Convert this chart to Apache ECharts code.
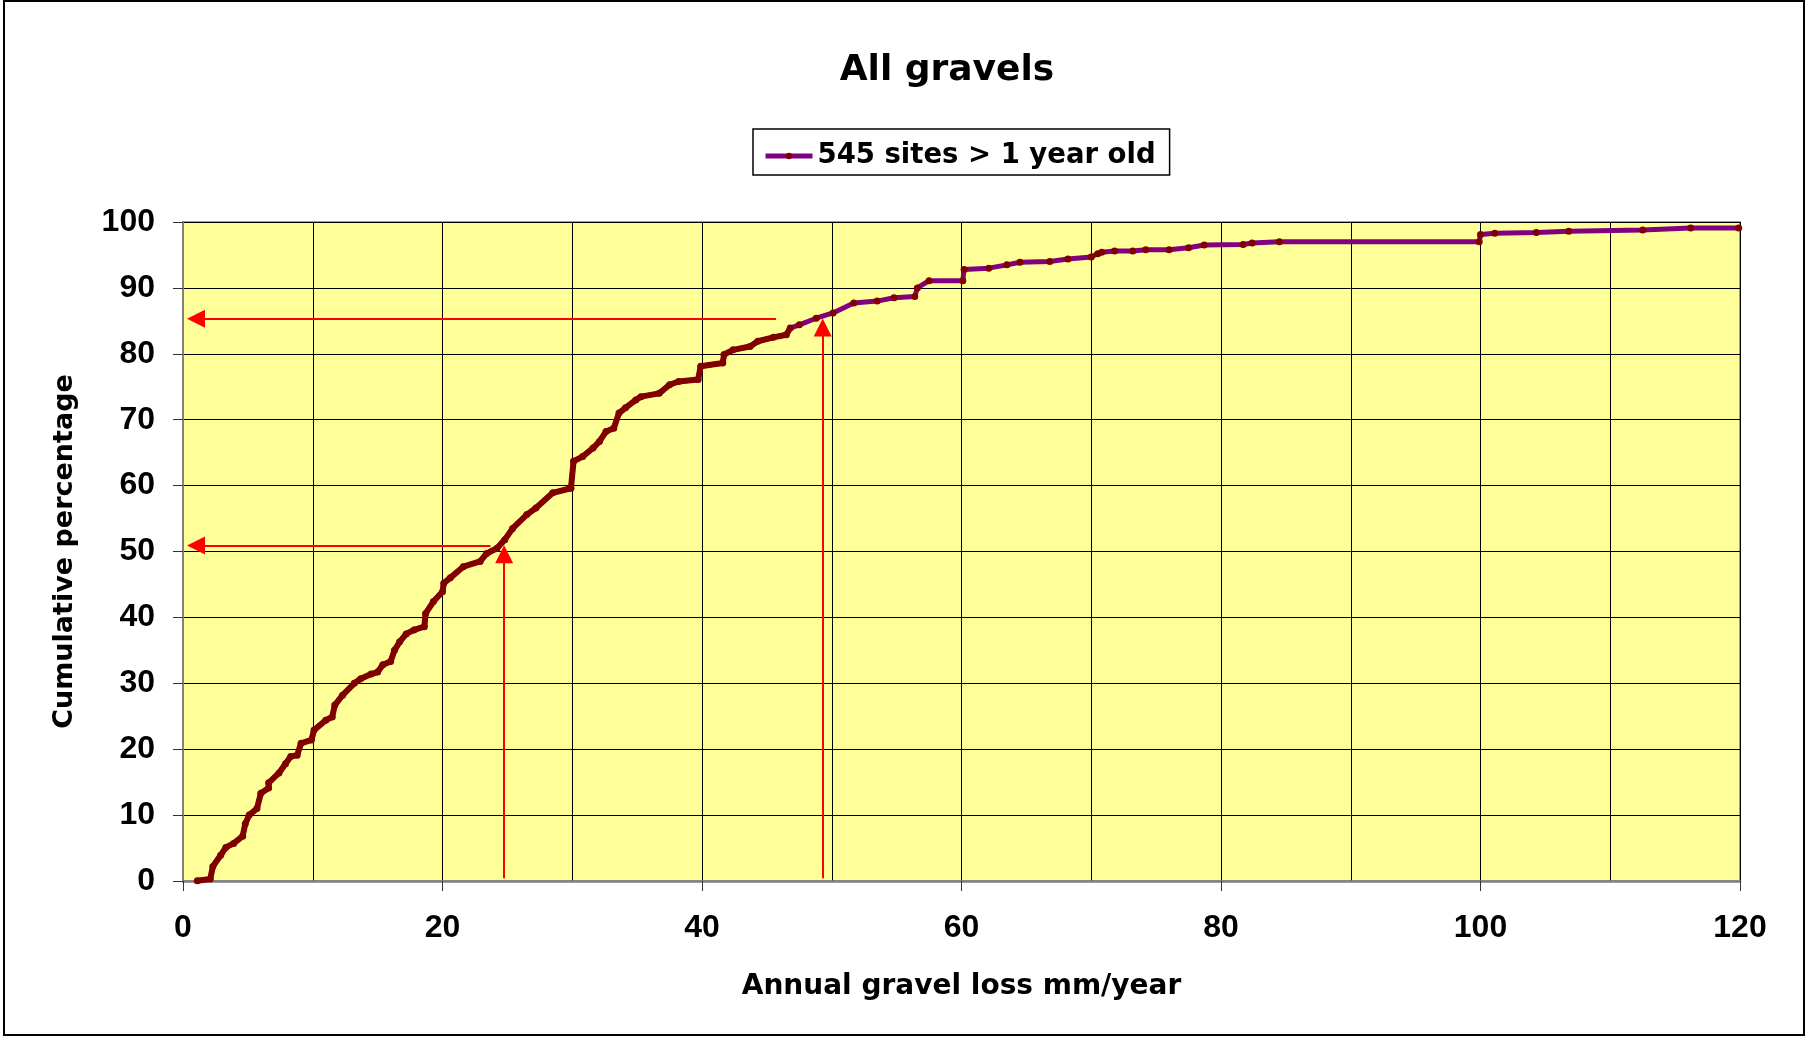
<!DOCTYPE html>
<html>
<head>
<meta charset="utf-8">
<script src="https://cdn.jsdelivr.net/npm/echarts@6/dist/echarts.min.js"></script>
<style>
  html, body { margin: 0; padding: 0; background: #fff; }
  #chart { width: 1806px; height: 1037px; }
</style>
</head>
<body>
<div id="chart"></div>
<script>
// ---- Data ----
const titleText = 'All gravels';
const seriesName = '545 sites > 1 year old';
const xAxisName = 'Annual gravel loss mm/year';
const yAxisName = 'Cumulative percentage';

// Annual gravel loss (mm/year)
const lossValues = [
  1.1, 2.1, 2.3, 2.9, 3.3, 3.9, 4.6, 4.8, 5.1, 5.7,
  6.0, 6.6, 6.6, 7.4, 7.9, 8.3, 8.8, 9.1, 9.9, 10.1,
  11.0, 11.5, 11.7, 12.3, 13.2, 13.7, 14.5, 15.0, 15.4, 16.0,
  16.3, 16.7, 17.2, 17.8, 18.6, 18.7, 19.3, 20.0, 20.1, 20.6,
  21.6, 22.9, 23.4, 24.2, 24.8, 25.4, 26.5, 27.2, 28.5, 29.9,
  30.1, 30.8, 31.6, 32.1, 32.6, 33.2, 33.6, 34.1, 34.9, 35.3,
  36.7, 37.5, 38.2, 39.7, 39.9, 41.6, 41.7, 42.4, 43.7, 44.3,
  45.5, 46.5, 46.8, 47.5, 48.8, 50.1, 51.7, 53.5, 54.8, 56.4,
  56.6, 57.5, 60.1, 60.2, 62.1, 63.5, 64.5, 66.8, 68.2, 70.0,
  70.5, 70.8, 71.8, 73.2, 74.2, 76.0, 77.5, 78.7, 81.7, 82.4,
  84.5, 99.9, 100.0, 101.1, 104.3, 106.8, 112.5, 116.2, 119.9
];
// Cumulative percentage
const cumPercent = [
  0.05, 0.3, 2.2, 3.9, 5.1, 5.7, 6.8, 8.7, 10.0, 11.0,
  13.3, 14.1, 14.9, 16.4, 17.8, 18.9, 19.1, 20.9, 21.4, 22.9,
  24.4, 24.9, 26.7, 28.2, 30.0, 30.7, 31.4, 31.7, 32.8, 33.3,
  35.0, 36.3, 37.5, 38.1, 38.6, 40.6, 42.4, 43.9, 45.2, 46.0,
  47.7, 48.5, 49.7, 50.5, 51.8, 53.5, 55.6, 56.6, 58.9, 59.6,
  63.7, 64.4, 65.7, 66.7, 68.2, 68.7, 71.0, 71.8, 73.0, 73.5,
  74.0, 75.3, 75.8, 76.1, 78.1, 78.6, 79.9, 80.6, 81.1, 81.9,
  82.5, 82.9, 83.9, 84.4, 85.4, 86.2, 87.7, 88.0, 88.5, 88.7,
  90.0, 91.1, 91.1, 92.8, 93.0, 93.5, 93.9, 94.0, 94.4, 94.7,
  95.2, 95.4, 95.6, 95.6, 95.8, 95.8, 96.1, 96.5, 96.6, 96.8,
  97.0, 97.0, 98.1, 98.3, 98.4, 98.6, 98.8, 99.1, 99.1
];

// Red guide arrows: [xFrom, yFrom, xTo, yTo] (arrow head at the "to" end)
const guideArrows = [
  [45.7, 85.3, 1.0, 85.3],
  [23.7, 50.9, 1.0, 50.9],
  [24.75, 0.4, 24.75, 49.6],
  [49.3, 0.4, 49.3, 84.0]
];

// Axis ranges / ticks
const xMin = 0, xMax = 120, xStep = 20;
const yMin = 0, yMax = 100, yStep = 10;
// The densely-marked part of the curve (markers merge into a dark-red line)
const denseUpTo = 46.8;

// ---- Build ----
const points = lossValues.map((x, i) => [x, cumPercent[i]]);
const densePoints = points.filter(p => p[0] <= denseUpTo);

const boldSans = 'DejaVu Sans';
const tickFont = 'Liberation Sans';

const chart = echarts.init(document.getElementById('chart'), null, { renderer: 'canvas' });

const option = {
  backgroundColor: '#ffffff',
  animation: false,
  title: {
    text: titleText,
    left: 947,
    top: 53,
    padding: 0,
    textAlign: 'center',
    textStyle: { fontFamily: boldSans, fontWeight: 'bold', fontSize: 36, color: '#000' }
  },
  legend: {
    data: [seriesName],
    left: 753,
    top: 129,
    padding: [13, 14, 5, 10],
    itemWidth: 47,
    itemHeight: 8,
    borderColor: '#000',
    borderWidth: 1.5,
    selectedMode: false,
    lineStyle: { width: 5 },
    textStyle: { fontFamily: boldSans, fontWeight: 'bold', fontSize: 27.5, color: '#000' }
  },
  graphic: [{
    type: 'rect',
    silent: true,
    z: -10,
    shape: { x: 4, y: 1, width: 1800, height: 1034 },
    style: { fill: 'none', stroke: '#000', lineWidth: 2 }
  }],
  grid: {
    left: 183,
    top: 222,
    right: 66,
    bottom: 156,
    show: true,
    backgroundColor: '#FFFF99',
    borderColor: '#a0a0a0',
    borderWidth: 2
  },
  xAxis: {
    type: 'value',
    min: xMin,
    max: xMax,
    interval: xStep,
    name: xAxisName,
    nameLocation: 'middle',
    nameGap: 92,
    nameTextStyle: { fontFamily: boldSans, fontWeight: 'bold', fontSize: 28, color: '#000' },
    axisLine: { show: true, onZero: false, lineStyle: { color: '#808080', width: 2.5 } },
    axisTick: { show: true, length: 10, lineStyle: { color: '#333', width: 1 } },
    minorTick: { show: false, splitNumber: 2 },
    splitLine: { show: true, lineStyle: { color: '#000', width: 1 } },
    minorSplitLine: { show: true, lineStyle: { color: '#000', width: 1 } },
    axisLabel: { fontFamily: tickFont, fontWeight: 'bold', fontSize: 32, color: '#000', margin: 31 }
  },
  yAxis: {
    type: 'value',
    min: yMin,
    max: yMax,
    interval: yStep,
    name: yAxisName,
    nameLocation: 'middle',
    nameRotate: 90,
    nameGap: 105,
    nameTextStyle: { fontFamily: boldSans, fontWeight: 'bold', fontSize: 27, color: '#000' },
    axisLine: { show: true, onZero: false, lineStyle: { color: '#808080', width: 2 } },
    axisTick: { show: true, length: 10, lineStyle: { color: '#333', width: 1 } },
    splitLine: { show: true, lineStyle: { color: '#000', width: 1 } },
    axisLabel: { fontFamily: tickFont, fontWeight: 'bold', fontSize: 32, color: '#000', margin: 28 }
  },
  series: [
    {
      name: seriesName,
      type: 'line',
      data: points,
      z: 3,
      showSymbol: true,
      symbol: 'circle',
      symbolSize: 7,
      itemStyle: { color: '#800000' },
      lineStyle: { color: '#800080', width: 5 },
      emphasis: { disabled: true },
      markLine: {
        silent: true,
        symbol: ['none', 'triangle'],
        symbolSize: 18,
        label: { show: false },
        lineStyle: { color: '#FF0000', width: 2, type: 'solid' },
        emphasis: { disabled: true },
        data: guideArrows.map(a => [{ coord: [a[0], a[1]] }, { coord: [a[2], a[3]] }])
      }
    },
    {
      name: 'dense part',
      type: 'line',
      data: densePoints,
      z: 4,
      silent: true,
      showSymbol: false,
      symbol: 'none',
      lineStyle: { color: '#800000', width: 6 },
      emphasis: { disabled: true }
    }
  ]
};

chart.setOption(option);
</script>
</body>
</html>
